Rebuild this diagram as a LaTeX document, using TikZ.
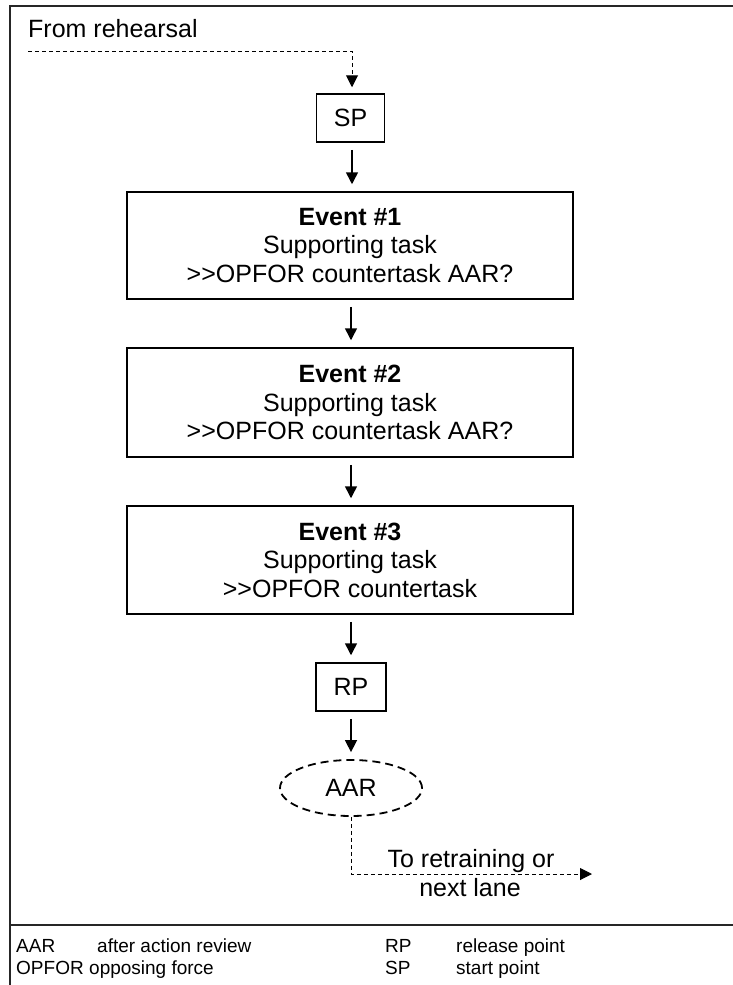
\documentclass[tikz,border=0pt]{standalone}
\usepackage{fontspec}
\setmainfont{Liberation Sans}
\usetikzlibrary{arrows.meta,shapes.geometric}
\begin{document}
\begin{tikzpicture}[x=1pt,y=-1pt,
  box/.style={draw,line width=1.5pt,align=center,inner sep=0pt,font=\fontsize{25}{28.5}\selectfont},
  evbox/.style={box,minimum width=446pt,minimum height=108pt},
  ptbox/.style={box,minimum width=68pt,minimum height=48pt},
  flow/.style={line width=1.5pt,-{Triangle[width=12pt,length=12pt]},shorten <=7pt,shorten >=7pt},
  dflow/.style={line width=1pt,dash pattern=on 4pt off 3pt,-{Triangle[width=12pt,length=12pt]}},
  lbl/.style={font=\fontsize{25}{28.5}\selectfont,inner sep=0pt},
  leg/.style={font=\fontsize{19}{22}\selectfont,inner sep=0pt,anchor=base west},
  frameline/.style={line width=1.5pt,draw=black!85}]
\useasboundingbox (0,0) rectangle (733,985);
% frame
\draw[frameline] (733,6) -- (10,6) -- (10,990);
\draw[frameline] (10,925) -- (733,925);
% nodes
\node[ptbox] (sp) at (350.5,118) {SP};
\node[evbox,minimum height=107pt] (e1) at (350,245.5) {\textbf{Event \#1}\\Supporting task\\>{}>OPFOR countertask AAR?};
\node[evbox,minimum height=109pt] (e2) at (350,402.5) {\textbf{Event \#2}\\Supporting task\\>{}>OPFOR countertask AAR?};
\node[evbox,minimum height=108pt] (e3) at (350,560) {\textbf{Event \#3}\\Supporting task\\>{}>OPFOR countertask};
\node[ptbox,minimum width=70pt] (rp) at (351,687) {RP};
\node[draw,ellipse,line width=1.8pt,dash pattern=on 8pt off 5pt,minimum width=142pt,minimum height=56pt,inner sep=0pt,font=\fontsize{25}{28.5}\selectfont] (aar) at (351,788) {AAR};
% texts
\node[lbl,anchor=base west] (from) at (28,37) {From rehearsal};
\node[lbl,anchor=base] (to1) at (471,867) {To retraining or};
\node[lbl,anchor=base] (to2) at (470,896) {next lane};
\coordinate (fr) at (28,51);
\coordinate (out) at (592,874);
% connectors
\draw[dflow,shorten >=6pt] (fr) -| ([xshift=1.5pt]sp.north);
\draw[flow] ([xshift=1.5pt]sp.south) -- ([xshift=1.5pt]sp.south |- e1.north);
\draw[flow] ([xshift=1pt]e1.south) -- ([xshift=1pt]e1.south |- e2.north);
\draw[flow] ([xshift=1pt]e2.south) -- ([xshift=1pt]e2.south |- e3.north);
\draw[flow] ([xshift=1pt]e3.south) -- ([xshift=1pt]e3.south |- rp.north);
\draw[flow] (rp.south) -- (rp.south |- aar.north);
\draw[dflow] (aar.south) |- (out);
% legend
\node[leg] (l1a) at (16,952) {AAR};
\node[leg] (l1b) at (97,952) {after action review};
\node[leg] (l2a) at (16,974) {OPFOR};
\node[leg] (l2b) at (89,974) {opposing force};
\node[leg] (l3a) at (385,952) {RP};
\node[leg] (l3b) at (456,952) {release point};
\node[leg] (l4a) at (385,974) {SP};
\node[leg] (l4b) at (456,974) {start point};
\end{tikzpicture}
\end{document}
